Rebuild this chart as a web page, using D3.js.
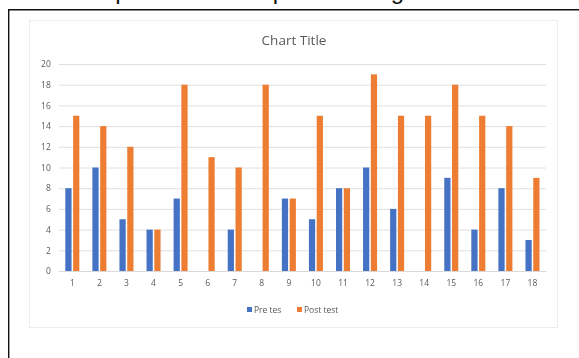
<!DOCTYPE html>
<html>
<head>
<meta charset="utf-8">
<script src="https://cdn.jsdelivr.net/npm/d3@7"></script>
<style>
  html, body { margin: 0; padding: 0; background: #fff; }
  svg { display: block; }
</style>
</head>
<body>
<svg id="chart" width="579" height="358"></svg>
<script>
// Student numbers along the x axis
const categories = ["1","2","3","4","5","6","7","8","9","10","11","12","13","14","15","16","17","18"];
// Scores per student
const preTest  = [8, 10, 5, 4, 7, 0, 4, 0, 7, 5, 8, 10, 6, 0, 9, 4, 8, 3];
const postTest = [15, 14, 12, 4, 18, 11, 10, 18, 7, 15, 8, 19, 15, 15, 18, 15, 14, 9];
// Series names as shown in the legend
const seriesNames = ["Pre tes", "Post test"];
const seriesColors = ["#4472C4", "#ED7D31"];
// Value axis ticks
const yTicks = [0, 2, 4, 6, 8, 10, 12, 14, 16, 18, 20];

const svg = d3.select("#chart");

// Document line above the embedded chart (only its lower edge shows)
const doc = svg.append("text")
  .attr("y", -1)
  .attr("font-family", "Liberation Sans, sans-serif")
  .attr("font-size", 24)
  .attr("fill", "#111");
[["Example", 54], ["of pre", 246], ["reading", 324], ["testing", 520]].forEach(([w, x]) => {
  doc.append("tspan").attr("x", x).text(w);
});

// Frame of the document box
svg.append("path")
  .attr("d", "M8.7,360 V9.7 H590")
  .attr("fill", "none")
  .attr("stroke", "#111")
  .attr("stroke-width", 1.4);

// Soft rendering of the embedded chart
const defs = svg.append("defs");
defs.append("filter").attr("id", "soft")
  .attr("x", "-5%").attr("y", "-5%").attr("width", "110%").attr("height", "110%")
  .append("feGaussianBlur").attr("stdDeviation", 0.55);

const chart = svg.append("g").attr("filter", "url(#soft)");

// Chart area
chart.append("rect")
  .attr("x", 29.5).attr("y", 20.5)
  .attr("width", 528).attr("height", 307)
  .attr("fill", "#fff")
  .attr("stroke", "#ececec")
  .attr("stroke-width", 1);

const plot = { left: 58.8, right: 546, top: 64, bottom: 271 };

const x0 = d3.scaleBand()
  .domain(categories)
  .range([plot.left, plot.right])
  .padding(0);

const x1 = d3.scaleBand()
  .domain(seriesNames)
  .range([x0.bandwidth() * 0.241, x0.bandwidth() * 0.759])
  .paddingInner(0.2);

const y = d3.scaleLinear()
  .domain([0, 20])
  .range([plot.bottom, plot.top]);

// Title
chart.append("text")
  .attr("x", 294).attr("y", 45)
  .attr("text-anchor", "middle")
  .attr("font-family", "Open Sans, sans-serif")
  .attr("font-size", 13.5)
  .attr("fill", "#595959")
  .text("Chart Title");

// Gridlines and y axis labels
const yAxis = d3.axisLeft(y)
  .tickValues(yTicks)
  .tickSize(-(plot.right - plot.left))
  .tickPadding(8);

const gy = chart.append("g")
  .attr("transform", `translate(${plot.left},0)`)
  .call(yAxis);
gy.select(".domain").remove();
gy.selectAll(".tick line").attr("stroke", "#e0e0e0").attr("stroke-width", 1);
gy.selectAll(".tick text")
  .attr("font-family", "Open Sans, sans-serif")
  .attr("font-size", 8.5)
  .attr("fill", "#595959");

// Bars
const rows = categories.map((c, i) => ({ cat: c, values: [preTest[i], postTest[i]] }));

const groups = chart.append("g").selectAll("g")
  .data(rows)
  .join("g")
  .attr("transform", d => `translate(${x0(d.cat)},0)`);

groups.selectAll("rect")
  .data(d => d.values.map((v, k) => ({ name: seriesNames[k], value: v, k })))
  .join("rect")
  .attr("x", d => x1(d.name))
  .attr("width", x1.bandwidth())
  .attr("y", d => y(d.value))
  .attr("height", d => y(0) - y(d.value))
  .attr("fill", d => seriesColors[d.k]);

// Category axis
const xAxis = d3.axisBottom(x0).tickSize(0).tickPadding(9);
const gx = chart.append("g")
  .attr("transform", `translate(0,${plot.bottom})`)
  .call(xAxis);
gx.select(".domain").attr("stroke", "#d9d9d9");
gx.selectAll(".tick text")
  .attr("font-family", "Open Sans, sans-serif")
  .attr("font-size", 8.5)
  .attr("fill", "#595959");

// Legend
const legendItems = [
  { name: seriesNames[0], color: seriesColors[0], x: 247 },
  { name: seriesNames[1], color: seriesColors[1], x: 297 }
];
const lg = chart.append("g").selectAll("g")
  .data(legendItems)
  .join("g")
  .attr("transform", d => `translate(${d.x},310)`);
lg.append("rect")
  .attr("x", 0).attr("y", -3)
  .attr("width", 5).attr("height", 5)
  .attr("fill", d => d.color);
lg.append("text")
  .attr("x", 7).attr("y", 2.5)
  .attr("font-family", "Open Sans, sans-serif")
  .attr("font-size", 8.5)
  .attr("fill", "#595959")
  .text(d => d.name);
</script>
</body>
</html>
